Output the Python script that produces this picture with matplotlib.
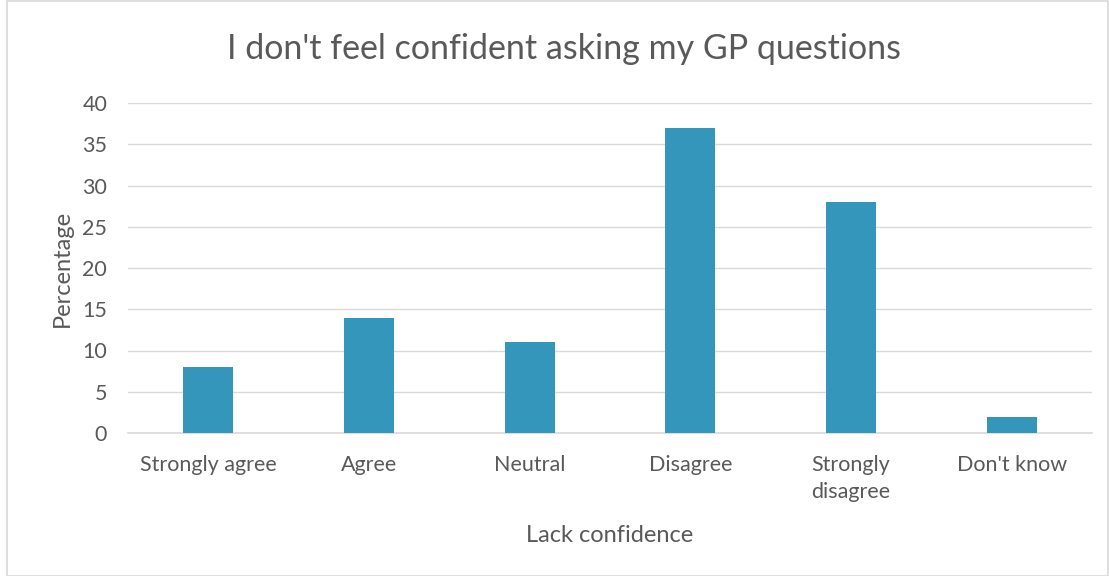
import matplotlib
matplotlib.use("Agg")
import matplotlib.pyplot as plt
from matplotlib.patches import Rectangle

categories = ["Strongly agree", "Agree", "Neutral", "Disagree", "Strongly\ndisagree", "Don't know"]
values = [8, 14, 11, 37, 28, 2]
yticks = [0, 5, 10, 15, 20, 25, 30, 35, 40]

plt.rcParams['font.family'] = ['Lato', 'DejaVu Sans']
text_color = '#595959'
grid_color = '#D9D9D9'
bar_color = '#3396BA'

fig = plt.figure(figsize=(11.09, 5.76), dpi=100)
ax = fig.add_axes([128/1109, 1 - 433/576, (1092-128)/1109, (433-103)/576])

x = list(range(len(categories)))
ax.bar(x, values, width=0.31, color=bar_color, zorder=3)
ax.set_xlim(-0.5, len(categories) - 0.5)
ax.set_ylim(0, 40)
ax.set_yticks(yticks)
ax.set_yticklabels([str(t) for t in yticks], fontsize=15.5, color=text_color)
ax.set_xticks(x)
ax.set_xticklabels(categories, fontsize=15.5, color=text_color, linespacing=1.45)
ax.tick_params(axis='both', length=0)
ax.tick_params(axis='y', pad=15)
ax.tick_params(axis='x', pad=16)
ax.grid(axis='y', color=grid_color, linewidth=1, zorder=0)
for s in ['top', 'right', 'left']:
    ax.spines[s].set_visible(False)
ax.spines['bottom'].set_color(grid_color)
ax.spines['bottom'].set_linewidth(1.2)

ax.set_ylabel("Percentage", fontsize=17, color=text_color, labelpad=7)
ax.set_xlabel("Lack confidence", fontsize=17, color=text_color, labelpad=16)
fig.text(564/1109, 1 - 49/576, "I don't feel confident asking my GP questions",
         ha='center', va='center', fontsize=24.5, color=text_color)

fig.patches.append(Rectangle((7/1109, 0.5/576), 1 - 8/1109, 1 - 1/576, transform=fig.transFigure,
                             fill=False, edgecolor=grid_color, linewidth=1.2))

fig.savefig("out.png", dpi=100)
